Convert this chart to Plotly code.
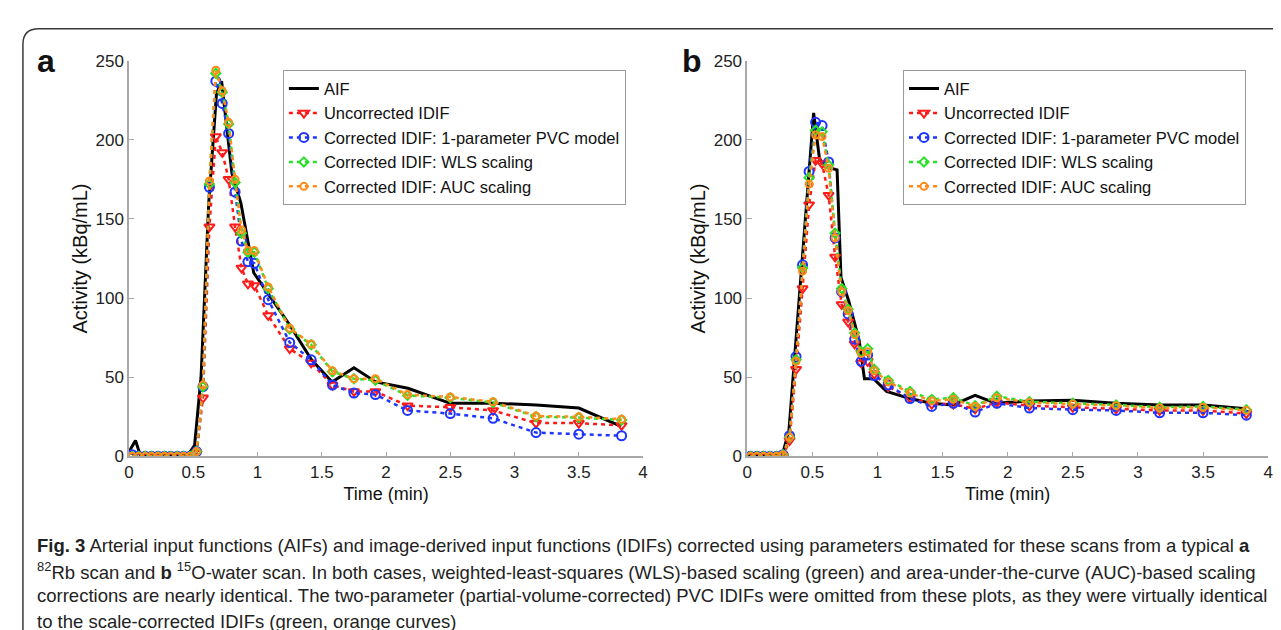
import plotly.graph_objects as go

W, H = 1281, 630

# frame mid-times (min) of the IDIF curves, same framing in both scans
t_frames = [0.025, 0.075, 0.125, 0.175, 0.225, 0.275, 0.325, 0.375, 0.425, 0.475,
            0.525, 0.575, 0.625, 0.675, 0.725, 0.775, 0.825, 0.875, 0.925, 0.975,
            1.083, 1.25, 1.417, 1.583, 1.75, 1.917,
            2.167, 2.5, 2.833, 3.167, 3.5, 3.833]

# panel a: 82Rb scan
a_aif_t = [0, 0.05, 0.09, 0.2, 0.23, 0.26, 0.45, 0.51, 0.56, 0.62, 0.68, 0.72, 0.80,
           0.87, 0.92, 0.97, 1.08, 1.25, 1.42, 1.58, 1.75, 1.92, 2.17, 2.5, 2.83,
           3.17, 3.5, 3.83]
a_aif = [3, 10, 0, 0, 2, 0, 0, 7, 50, 160, 229, 237, 179, 160, 138, 116, 103, 83,
         61, 47, 56, 47, 43, 33.5, 33.5, 32.5, 30.5, 19]
a_uncorr = [0, 0, 0, 0, 0, 0, 0, 0, 0, 0,
            2, 37, 145, 202, 192, 175, 145, 119, 109, 108,
            89, 68, 59, 45, 41, 41, 32, 31, 29, 21, 21, 19.5]
a_pvc1 = [1, 0, 0, 0, 0, 0, 0, 0, 0, 0,
          3, 44, 170, 237, 223, 204, 167, 136, 123, 122,
          99, 72, 61, 45, 40, 39, 29, 27, 24, 15, 14, 13]
a_wls = [0, 0, 0, 0, 0, 0, 0, 0, 0, 0,
         3, 44, 172, 242, 230, 210, 173, 141, 129, 129,
         106, 80.5, 70.5, 53.5, 49, 48, 38.5, 37, 34, 25, 24.5, 23]
a_auc = [0, 0, 0, 0, 0, 0, 0, 0, 0, 0,
         3, 45, 174, 244, 231, 211, 175, 143, 130, 130,
         107, 81, 71, 54, 49, 49, 39, 37.5, 34.5, 25.5, 25, 23.5]

# panel b: 15O-water scan
b_aif_t = [0, 0.27, 0.32, 0.51, 0.555, 0.6, 0.69, 0.72, 0.78, 0.86, 0.9, 0.97, 1.07,
           1.25, 1.41, 1.58, 1.75, 1.91, 2.17, 2.5, 2.83, 3.17, 3.5, 3.83]
b_aif = [0, 1, 16, 217, 188, 183, 181, 113, 98, 73, 49, 49, 41, 36.5, 33.5, 32.5,
         38.5, 33.5, 35, 35.5, 33.5, 32.5, 32.5, 30]
b_uncorr = [0, 0, 0, 0, 0, 0, 10, 55, 106, 159,
            187, 185, 165, 126, 96, 85, 71, 59, 60, 52,
            44, 37, 33, 33, 30, 34, 32, 31, 30, 29, 29, 27]
b_pvc1 = [0, 0, 0, 0, 0, 1, 13, 63, 121, 180,
          211, 209, 186, 138, 104, 90, 74, 60, 64, 51,
          45, 36.5, 31.5, 33.5, 28, 33.5, 30.5, 29.5, 29, 27.5, 27.5, 26]
b_wls = [0, 0, 0, 0, 0, 1, 12, 61, 119, 176,
         206, 205, 184, 141, 106, 93, 78, 66, 68, 55,
         48, 41, 36, 37, 32, 38, 34.5, 33.5, 32.5, 31, 31.5, 29.5]
b_auc = [0, 0, 0, 0, 0, 1, 12, 60, 117, 172,
         203, 202, 182, 138, 104, 92, 77, 65, 66, 54,
         47, 40, 35, 36, 31.5, 37, 34, 33, 32, 30.5, 31, 29]

names = ["AIF", "Uncorrected IDIF", "Corrected IDIF: 1-parameter PVC model",
         "Corrected IDIF: WLS scaling", "Corrected IDIF: AUC scaling"]
colors = ["#000000", "#ff1a1a", "#1f35ff", "#27e027", "#ff8c1a"]
symbols = [None, "triangle-down-open", "circle-open", "diamond-open", "circle-open"]
msizes = [0, 9, 9, 7, 7]


def px_x(v):
    return v / W


def px_y(v):
    return 1 - v / H


fig = go.Figure()

panels = [
    ("x", "y", "legend", a_aif_t, a_aif, [a_uncorr, a_pvc1, a_wls, a_auc]),
    ("x2", "y2", "legend2", b_aif_t, b_aif, [b_uncorr, b_pvc1, b_wls, b_auc]),
]
for xa, ya, lg, aif_t, aif, idifs in panels:
    fig.add_trace(go.Scatter(x=aif_t, y=aif, mode="lines", name=names[0],
                             line=dict(color=colors[0], width=3),
                             xaxis=xa, yaxis=ya, legend=lg))
    for i, series in enumerate(idifs, start=1):
        fig.add_trace(go.Scatter(
            x=t_frames, y=series, mode="lines+markers", name=names[i],
            line=dict(color=colors[i], width=2.5, dash="4px,4px"),
            marker=dict(symbol=symbols[i], size=msizes[i], color=colors[i],
                        line=dict(width=2, color=colors[i])),
            xaxis=xa, yaxis=ya, legend=lg))

axis_common = dict(showline=True, linecolor="#a8a8a8", linewidth=1.5,
                   ticks="inside", ticklen=5, tickcolor="#a8a8a8",
                   showgrid=False, zeroline=False,
                   tickfont=dict(size=17, color="#222"))
xdom_a = [px_x(117), px_x(635)]
xdom_b = [px_x(740), px_x(1265)]
ydom = [px_y(453), px_y(45)]

xt = dict(text="Time (min)", font=dict(size=18, color="#111"), standoff=6)
yt = dict(text="Activity (kBq/mL)", font=dict(size=20, color="#111"), standoff=3)

legend_common = dict(bgcolor="white", bordercolor="#9a9a9a", borderwidth=1,
                     font=dict(size=16.5, color="#111"), itemwidth=30,
                     xanchor="left", yanchor="top", tracegroupgap=0)

fig.update_layout(
    width=W, height=H,
    margin=dict(l=0, r=0, t=0, b=0),
    paper_bgcolor="white", plot_bgcolor="white",
    font=dict(family="Liberation Sans, Arial, sans-serif", color="#111"),
    xaxis=dict(domain=xdom_a, range=[0, 4], dtick=0.5, anchor="y", title=xt, **axis_common),
    yaxis=dict(domain=ydom, range=[0, 250], dtick=50, anchor="x", title=yt, **axis_common),
    xaxis2=dict(domain=xdom_b, range=[0, 4], dtick=0.5, anchor="y2", title=xt, **axis_common),
    yaxis2=dict(domain=ydom, range=[0, 250], dtick=50, anchor="x2", title=yt, **axis_common),
    legend=dict(x=px_x(272), y=px_y(55), **legend_common),
    legend2=dict(x=px_x(897), y=px_y(55), **legend_common),
    showlegend=True,
)

# outer frame with rounded top-left corner
fig.add_shape(type="path", xref="paper", yref="paper",
              path=(f"M {px_x(10)},-0.05 L {px_x(10)},{px_y(28)} "
                    f"Q {px_x(10)},{px_y(12)} {px_x(26)},{px_y(12)} L 1.05,{px_y(12)}"),
              line=dict(color="#3a3a3a", width=1.5))

# panel letters
for letter, xpx in [("a", 33), ("b", 684)]:
    fig.add_annotation(text=f"<b>{letter}</b>", x=px_x(xpx), y=px_y(45),
                       xref="paper", yref="paper", xanchor="center", yanchor="middle",
                       showarrow=False,
                       font=dict(size=32, color="#111", family="Liberation Sans, Arial"))

caption = [
    "<b>Fig. 3</b> Arterial input functions (AIFs) and image-derived input functions (IDIFs) "
    "corrected using parameters estimated for these scans from a typical <b>a</b>",
    "<sup>82</sup>Rb scan and <b>b</b> <sup>15</sup>O-water scan. In both cases, "
    "weighted-least-squares (WLS)-based scaling (green) and area-under-the-curve (AUC)-based scaling",
    "corrections are nearly identical. The two-parameter (partial-volume-corrected) PVC IDIFs "
    "were omitted from these plots, as they were virtually identical",
    "to the scale-corrected IDIFs (green, orange curves)",
]
for i, line in enumerate(caption):
    fig.add_annotation(text=line, x=px_x(22), y=px_y(545 + 26 * i),
                       xref="paper", yref="paper", xanchor="left", yanchor="middle",
                       showarrow=False, align="left",
                       font=dict(size=18.5, color="#222",
                                 family="Liberation Sans, Arial, sans-serif"))

fig.write_html("out.html")
